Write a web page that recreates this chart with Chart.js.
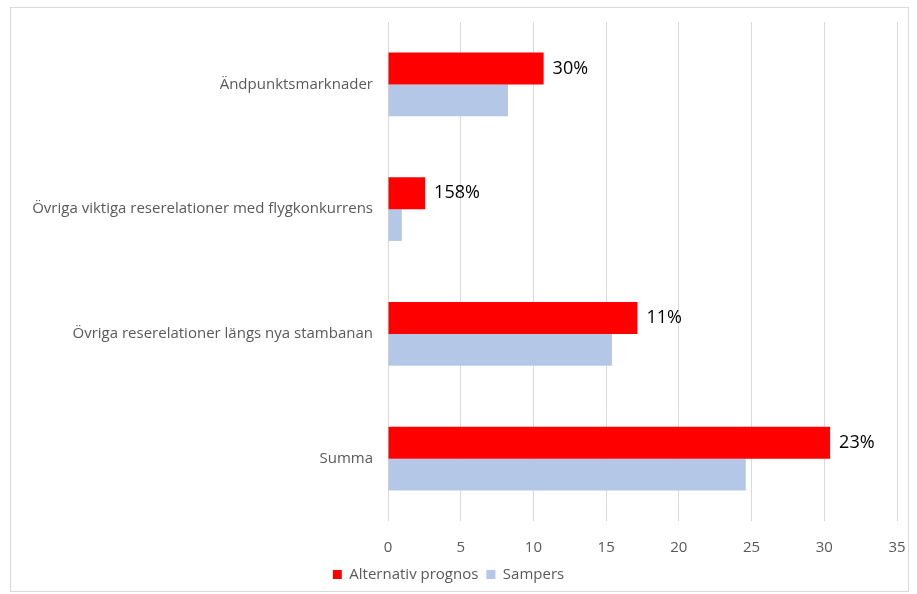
<!DOCTYPE html>
<html>
<head>
<meta charset="utf-8">
<script src="https://cdn.jsdelivr.net/npm/chart.js@4"></script>
<style>
html,body{margin:0;padding:0;background:#fff;}
#wrap{position:absolute;left:0;top:0;width:917px;height:594px;}
</style>
</head>
<body>
<div id="wrap"><canvas id="c" width="917" height="594"></canvas></div>
<script>
const categories = ["Ändpunktsmarknader", "Övriga viktiga reserelationer med flygkonkurrens", "Övriga reserelationer längs nya stambanan", "Summa"];
const alternativPrognos = [10.7, 2.55, 17.15, 30.4];
const sampers = [8.25, 0.95, 15.4, 24.6];
const changeLabels = ["30%", "158%", "11%", "23%"];
const xTicks = [0, 5, 10, 15, 20, 25, 30, 35];

const frame = {
  id: 'frame',
  beforeDraw(chart) {
    const ctx = chart.ctx;
    ctx.save();
    ctx.strokeStyle = '#d9d9d9';
    ctx.lineWidth = 1;
    ctx.strokeRect(10.5, 7.5, 898, 584);
    ctx.restore();
  }
};

const valueLabels = {
  id: 'valueLabels',
  afterDatasetsDraw(chart) {
    const ctx = chart.ctx;
    const meta = chart.getDatasetMeta(0);
    ctx.save();
    ctx.font = '18px "Open Sans"';
    ctx.fillStyle = '#000';
    ctx.textAlign = 'left';
    ctx.textBaseline = 'middle';
    meta.data.forEach((bar, i) => {
      ctx.fillText(changeLabels[i], bar.x + 9, bar.y);
    });
    ctx.restore();
  }
};

new Chart(document.getElementById('c'), {
  type: 'bar',
  data: {
    labels: categories,
    datasets: [
      { label: 'Alternativ prognos', data: alternativPrognos, backgroundColor: '#ff0000', barPercentage: 1, categoryPercentage: 0.51 },
      { label: 'Sampers', data: sampers, backgroundColor: '#b4c7e7', barPercentage: 1, categoryPercentage: 0.51 }
    ]
  },
  options: {
    indexAxis: 'y',
    responsive: false,
    animation: false,
    devicePixelRatio: 1,
    layout: { padding: { left: 0, right: 20, top: 22, bottom: 2 } },
    plugins: {
      legend: {
        position: 'bottom',
        labels: {
          boxWidth: 9, boxHeight: 9,
          padding: 8,
          color: '#595959',
          font: { family: 'Open Sans', size: 15 }
        }
      },
      tooltip: { enabled: false }
    },
    scales: {
      x: {
        min: 0, max: 35,
        afterBuildTicks(scale) { scale.ticks = xTicks.map(v => ({ value: v })); },
        afterFit(scale) { scale.height = 38; scale.paddingRight = 0; scale.paddingLeft = 0; },
        grid: { color: '#d9d9d9', drawTicks: false },
        border: { display: false },
        ticks: { color: '#595959', padding: 18, font: { family: 'Open Sans', size: 15 } }
      },
      y: {
        grid: { display: false },
        border: { display: false },
        afterFit(scale) { scale.width = 388; },
        ticks: { color: '#595959', padding: 7, font: { family: 'Open Sans', size: 15 } }
      }
    }
  },
  plugins: [frame, valueLabels]
});
</script>
</body>
</html>
